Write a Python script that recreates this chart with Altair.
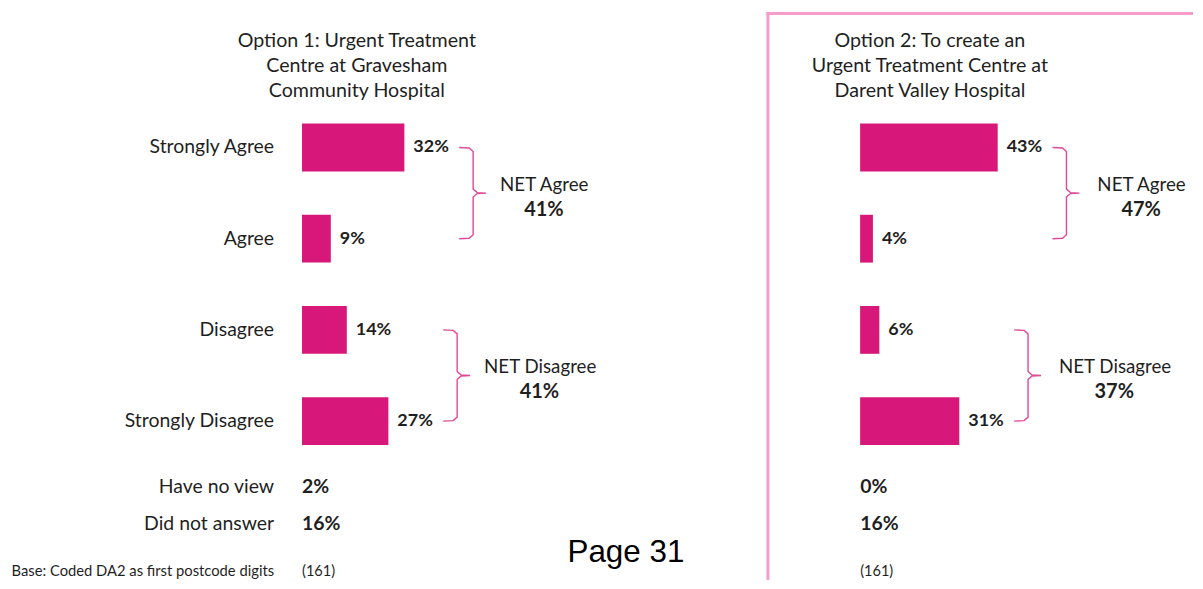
import altair as alt
import pandas as pd

# ---------------- data ----------------
categories = ["Strongly Agree", "Agree", "Disagree", "Strongly Disagree"]
option1_pct = [32, 9, 14, 27]
option2_pct = [43, 4, 6, 31]
extra_categories = ["Have no view", "Did not answer"]
option1_extra = [2, 16]
option2_extra = [0, 16]
net_labels = ["NET Agree", "NET Disagree"]
net_pairs = [(0, 1), (2, 3)]
option1_net = [41, 41]
option2_net = [47, 37]
base_label = "Base: Coded DA2 as first postcode digits"
option1_base = 161
option2_base = 161
option1_title = "Option 1: Urgent Treatment\nCentre at Gravesham\nCommunity Hospital"
option2_title = "Option 2: To create an\nUrgent Treatment Centre at\nDarent Valley Hospital"
page_label = "Page 31"

# ---------------- layout / style ----------------
FONT = "Lato"
TXT = "#1f1f1f"
BAR = "#D8177A"
BRACE = "#DE4A98"
BOX = "#F59CCB"
PX = 3.21           # pixels per percentage point
H = 573
ROW = 91.5          # pixels between bar rows
ROW0 = 139          # chart y of first bar row
W1, W2 = 759, 428
ORIGIN1, ORIGIN2 = 295, 94
Y_DOMAIN = [-ROW0 / ROW, (H - ROW0) / ROW]
EXTRA_ROWS = [(480 - ROW0) / ROW, (517 - ROW0) / ROW]
BASE_ROW = (565 - ROW0) / ROW
NET_W = {"NET Agree": 88, "NET Disagree": 111}


def panel(values, extra, nets, base_n, title, W, origin, title_x, show_labels, net_gap, page=False, box=False):
    xs = alt.Scale(domain=[-origin / PX, (W - origin) / PX], nice=False, zero=False, padding=0)
    ys = alt.Scale(domain=Y_DOMAIN, nice=False, zero=False, reverse=True, padding=0)
    X = lambda f: alt.X(f, type="quantitative", scale=xs, axis=None)
    Y = lambda f: alt.Y(f, type="quantitative", scale=ys, axis=None)

    df = pd.DataFrame({
        "cat": categories,
        "row": list(range(len(categories))),
        "pct": values,
        "label": [f"{v}%" for v in values],
        "zero": [0] * len(values),
    })
    dfx = pd.DataFrame({
        "cat": extra_categories,
        "row": EXTRA_ROWS,
        "label": [f"{v}%" for v in extra],
        "zero": [0, 0],
    })
    dfb = pd.DataFrame({"cat": [base_label], "row": [BASE_ROW], "label": [f"({base_n})"], "zero": [0]})

    # brackets
    pts = []
    nl = []
    for g, ((r0, r1), name, nv) in enumerate(zip(net_pairs, net_labels, nets)):
        m = max(values[r0], values[r1])
        mid = (r0 + r1) / 2
        shape = [(55, r0, 0), (65, r0, 0.5), (69, r0, 4), (69, mid, -4), (73, mid, -0.5), (82, mid, 0),
                 (73, mid, 0.5), (69, mid, 4), (69, r1, -4), (65, r1, -0.5), (55, r1, 0)]
        for i, (ox, r, oy) in enumerate(shape):
            pts.append({"g": g, "i": i, "x": m + ox / PX, "y": r + oy / ROW})
        nl.append({"name": name, "pct": f"{nv}%", "y": mid,
                   "xl": m + (82 + net_gap) / PX, "xc": m + (82 + net_gap + NET_W[name] / 2) / PX})
    dfbr = pd.DataFrame(pts)
    dfn = pd.DataFrame(nl)

    layers = []
    bars = alt.Chart(df).mark_bar(orient="horizontal", size=48, color=BAR).encode(x=X("pct"), y=Y("row"))
    layers.append(bars)
    layers.append(alt.Chart(df).mark_text(align="left", baseline="middle", dx=9, font=FONT, fontSize=18,
                                          fontWeight="bold", color=TXT).encode(x=X("pct"), y=Y("row"), text="label:N"))
    if show_labels:
        layers.append(alt.Chart(df).mark_text(align="right", baseline="middle", dx=-28, font=FONT, fontSize=19.5,
                                              color=TXT).encode(x=X("zero"), y=Y("row"), text="cat:N"))
        layers.append(alt.Chart(dfx).mark_text(align="right", baseline="middle", dx=-28, font=FONT, fontSize=19.5,
                                               color=TXT).encode(x=X("zero"), y=Y("row"), text="cat:N"))
        layers.append(alt.Chart(dfb).mark_text(align="right", baseline="middle", dx=-28, font=FONT, fontSize=14.8,
                                               color=TXT).encode(x=X("zero"), y=Y("row"), text="cat:N"))
    layers.append(alt.Chart(dfx).mark_text(align="left", baseline="middle", font=FONT, fontSize=19.5,
                                           fontWeight="bold", color=TXT).encode(x=X("zero"), y=Y("row"), text="label:N"))
    layers.append(alt.Chart(dfb).mark_text(align="left", baseline="middle", font=FONT, fontSize=14.6,
                                           color=TXT).encode(x=X("zero"), y=Y("row"), text="label:N"))
    layers.append(alt.Chart(dfbr).mark_line(color=BRACE, strokeWidth=1.4).encode(
        x=X("x"), y=Y("y"), order="i:Q", detail="g:N"))
    layers.append(alt.Chart(dfn).mark_text(align="left", baseline="middle", dy=-8, font=FONT, fontSize=18.8,
                                           color=TXT).encode(x=X("xl"), y=Y("y"), text="name:N"))
    layers.append(alt.Chart(dfn).mark_text(align="center", baseline="middle", dy=17, font=FONT, fontSize=20,
                                           fontWeight="bold", color=TXT).encode(x=X("xc"), y=Y("y"), text="pct:N"))
    layers.append(alt.Chart(pd.DataFrame({"t": [title]})).mark_text(
        align="center", baseline="middle", lineBreak="\n", lineHeight=25, font=FONT, fontSize=19.7, color=TXT
    ).encode(x=alt.value(title_x), y=alt.value(32), text="t:N"))
    if page:
        layers.append(alt.Chart(pd.DataFrame({"t": [page_label]})).mark_text(
            align="center", baseline="alphabetic", font="Liberation Sans", fontSize=31.5, color="#000000"
        ).encode(x=alt.value(620), y=alt.value(555), text="t:N"))
    if box:
        d = pd.DataFrame({"a": [0]})
        layers.append(alt.Chart(d).mark_rule(color=BOX, strokeWidth=3).encode(
            x=alt.value(1.5), y=alt.value(3), y2=alt.value(H)))
        layers.append(alt.Chart(d).mark_rule(color=BOX, strokeWidth=3).encode(
            x=alt.value(0), x2=alt.value(W), y=alt.value(4.5)))
    return alt.layer(*layers).properties(width=W, height=H)


p1 = panel(option1_pct, option1_extra, option1_net, option1_base, option1_title, W1, ORIGIN1, 350, True, 14,
           page=True)
p2 = panel(option2_pct, option2_extra, option2_net, option2_base, option2_title, W2, ORIGIN2, 164, False, 18,
           box=True)

chart = alt.hconcat(p1, p2, spacing=0).properties(padding=0).configure_view(strokeWidth=0)
chart.save("out.html", embed_options={"renderer": "svg", "actions": False})
